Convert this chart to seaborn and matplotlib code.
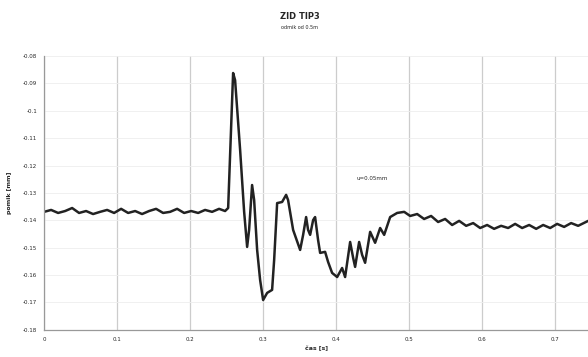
import numpy as np
import pandas as pd
import seaborn as sns
import matplotlib.pyplot as plt

sns.set_style("whitegrid")

# displacement signal
time_s = [0.0, 0.0096, 0.0192, 0.0288, 0.0384, 0.0479, 0.0575, 0.0671, 0.0767, 0.0863,
          0.0959, 0.1055, 0.1151, 0.1247, 0.1342, 0.1438, 0.1534, 0.1630, 0.1726, 0.1822,
          0.1918, 0.2014, 0.2110, 0.2205, 0.2301, 0.2397, 0.2479, 0.2521, 0.2589, 0.2616,
          0.2685, 0.2740, 0.2781, 0.2808, 0.2849, 0.2877, 0.2918, 0.2959, 0.3000, 0.3055,
          0.3123, 0.3151, 0.3192, 0.3260, 0.3315, 0.3342, 0.3411, 0.3507, 0.3548, 0.3589,
          0.3616, 0.3644, 0.3685, 0.3712, 0.3753, 0.3781, 0.3849, 0.3890, 0.3945, 0.4014,
          0.4082, 0.4123, 0.4192, 0.4233, 0.4260, 0.4315, 0.4356, 0.4397, 0.4466, 0.4534,
          0.4603, 0.4658, 0.4740, 0.4836, 0.4932, 0.5014, 0.5110, 0.5205, 0.5301, 0.5397,
          0.5493, 0.5589, 0.5685, 0.5781, 0.5877, 0.5973, 0.6068, 0.6164, 0.6260, 0.6356,
          0.6452, 0.6548, 0.6644, 0.6740, 0.6836, 0.6932, 0.7027, 0.7123, 0.7219, 0.7315,
          0.7452]
displacement = [-0.1369, -0.1362, -0.1373, -0.1366, -0.1355, -0.1373, -0.1366, -0.1377, -0.1369, -0.1362,
                -0.1373, -0.1358, -0.1373, -0.1366, -0.1377, -0.1366, -0.1358, -0.1373, -0.1369, -0.1358,
                -0.1373, -0.1366, -0.1373, -0.1362, -0.1369, -0.1358, -0.1366, -0.1355, -0.0862, -0.0888,
                -0.1143, -0.1369, -0.1497, -0.1435, -0.1271, -0.1326, -0.1508, -0.1618, -0.1691, -0.1665,
                -0.1654, -0.1545, -0.1337, -0.1333, -0.1307, -0.1326, -0.1435, -0.1508, -0.1453, -0.1388,
                -0.1435, -0.1453, -0.1399, -0.1388, -0.1472, -0.1519, -0.1515, -0.1552, -0.1592, -0.1607,
                -0.1574, -0.1607, -0.1479, -0.1537, -0.1570, -0.1479, -0.1526, -0.1555, -0.1442, -0.1482,
                -0.1428, -0.1453, -0.1388, -0.1373, -0.1369, -0.1384, -0.1377, -0.1395, -0.1384, -0.1406,
                -0.1395, -0.1417, -0.1402, -0.1420, -0.1410, -0.1428, -0.1417, -0.1431, -0.1420, -0.1428,
                -0.1413, -0.1428, -0.1417, -0.1431, -0.1417, -0.1428, -0.1413, -0.1424, -0.1410, -0.1420,
                -0.1402]

x_ticks = [0.0, 0.1, 0.2, 0.3, 0.4, 0.5, 0.6, 0.7]
y_ticks = [-0.08, -0.09, -0.1, -0.11, -0.12, -0.13, -0.14, -0.15, -0.16, -0.17, -0.18]

df = pd.DataFrame({"t": time_s, "u": displacement})

fig = plt.figure(figsize=(5.88, 3.57), dpi=100)
ax = fig.add_axes([0.075, 0.076, 0.925, 0.767])

sns.lineplot(data=df, x="t", y="u", sort=False, color="#222222", linewidth=1.8, ax=ax)

ax.set_xlim(0.0, 0.745)
ax.set_ylim(-0.18, -0.08)
ax.set_xticks(x_ticks)
ax.set_yticks(y_ticks)
ax.set_xticklabels([f"{v:g}" for v in x_ticks], fontsize=4)
ax.set_yticklabels([f"{v:g}" for v in y_ticks], fontsize=4)
ax.tick_params(axis="both", length=2, pad=3)
ax.grid(axis="x", color="#cccccc", linewidth=0.9)
ax.grid(axis="y", color="#eeeeee", linewidth=0.6)
for side in ["top", "right"]:
    ax.spines[side].set_visible(False)
for side in ["left", "bottom"]:
    ax.spines[side].set_color("#999999")
    ax.spines[side].set_linewidth(0.9)

ax.set_xlabel("čas [s]", fontsize=4.5, fontweight="bold", labelpad=3)
ax.set_ylabel("pomik [mm]", fontsize=4.5, fontweight="bold", labelpad=8)

fig.text(0.51, 0.955, "ZID TIP3", ha="center", va="center", fontsize=6, fontweight="bold")
fig.text(0.51, 0.922, "odmik od 0.5m", ha="center", va="center", fontsize=3.5)
ax.text(0.428, -0.1248, "u=0.05mm", fontsize=4, ha="left", va="center")

plt.savefig("out.png", dpi=100)
